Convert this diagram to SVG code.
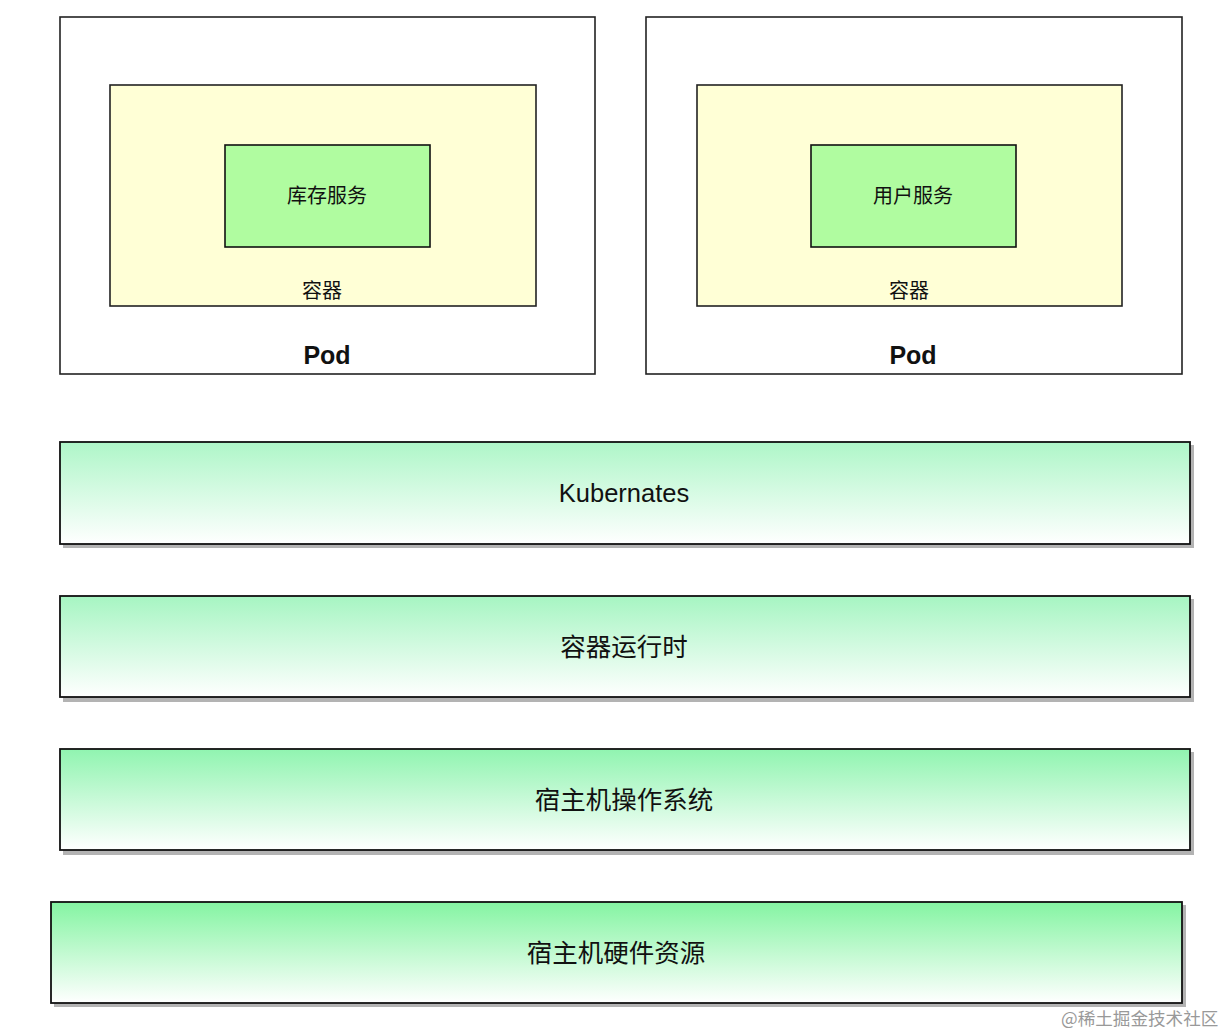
<svg xmlns="http://www.w3.org/2000/svg" width="1226" height="1036" viewBox="0 0 1226 1036">
<style>
.pod{fill:#ffffff;stroke:#222;stroke-width:1.6}
.ctr{fill:#ffffd6;stroke:#222;stroke-width:1.6}
.svc{fill:#b0fca0;stroke:#111;stroke-width:1.6}
.layer{stroke:#111;stroke-width:1.8}
.shadow{fill:#b3b3b3}
text{font-family:"Noto Sans CJK SC","Liberation Sans",sans-serif;fill:#111;text-anchor:middle}
.s18{font-size:20px}
.pd{font-family:"Liberation Sans","Noto Sans CJK SC",sans-serif;font-size:25px;font-weight:bold}
.l22{font-family:"Liberation Sans","Noto Sans CJK SC",sans-serif;font-size:25.5px}
.l24{font-size:25.5px}
.wm{font-size:17.6px;fill:#999;text-anchor:start}
</style>
<defs>
<linearGradient id="g1" x1="0" y1="0" x2="0" y2="1"><stop offset="0" stop-color="#aef6c8"/><stop offset="1" stop-color="#ffffff"/></linearGradient>
<linearGradient id="g2" x1="0" y1="0" x2="0" y2="1"><stop offset="0" stop-color="#a6f5c2"/><stop offset="1" stop-color="#ffffff"/></linearGradient>
<linearGradient id="g3" x1="0" y1="0" x2="0" y2="1"><stop offset="0" stop-color="#90f4b0"/><stop offset="1" stop-color="#ffffff"/></linearGradient>
<linearGradient id="g4" x1="0" y1="0" x2="0" y2="1"><stop offset="0" stop-color="#84f4a2"/><stop offset="1" stop-color="#ffffff"/></linearGradient>
</defs>
<rect width="1226" height="1036" fill="#ffffff"/>
<g id="pod-left">
<rect class="pod" x="60" y="17" width="535" height="357"/>
<text class="pd" x="327" y="364">Pod</text>
</g>
<g id="container-left">
<rect class="ctr" x="110" y="85" width="426" height="221"/>
<text class="s18" x="322" y="298">容器</text>
</g>
<g id="svc-inventory">
<rect class="svc" x="225" y="145" width="205" height="102"/>
<text class="s18" x="327" y="203">库存服务</text>
</g>
<g id="pod-right">
<rect class="pod" x="646" y="17" width="536" height="357"/>
<text class="pd" x="913" y="364">Pod</text>
</g>
<g id="container-right">
<rect class="ctr" x="697" y="85" width="425" height="221"/>
<text class="s18" x="909" y="298">容器</text>
</g>
<g id="svc-user">
<rect class="svc" x="811" y="145" width="205" height="102"/>
<text class="s18" x="913" y="203">用户服务</text>
</g>
<g id="layer-k8s">
<rect class="shadow" x="63" y="445" width="1131" height="103"/>
<rect class="layer" fill="url(#g1)" x="60" y="442" width="1130" height="102"/>
<text class="l22" x="624" y="502">Kubernates</text>
</g>
<g id="layer-runtime">
<rect class="shadow" x="63" y="599" width="1131" height="103"/>
<rect class="layer" fill="url(#g2)" x="60" y="596" width="1130" height="101"/>
<text class="l24" x="624" y="656">容器运行时</text>
</g>
<g id="layer-os">
<rect class="shadow" x="63" y="752" width="1131" height="103"/>
<rect class="layer" fill="url(#g3)" x="60" y="749" width="1130" height="101"/>
<text class="l24" x="624" y="809">宿主机操作系统</text>
</g>
<g id="layer-hw">
<rect class="shadow" x="54" y="905" width="1132" height="102"/>
<rect class="layer" fill="url(#g4)" x="51" y="902" width="1131" height="101"/>
<text class="l24" x="616" y="962">宿主机硬件资源</text>
</g>
<g id="connectors"></g>
<text class="wm" x="1061" y="1025">@稀土掘金技术社区</text>
</svg>
